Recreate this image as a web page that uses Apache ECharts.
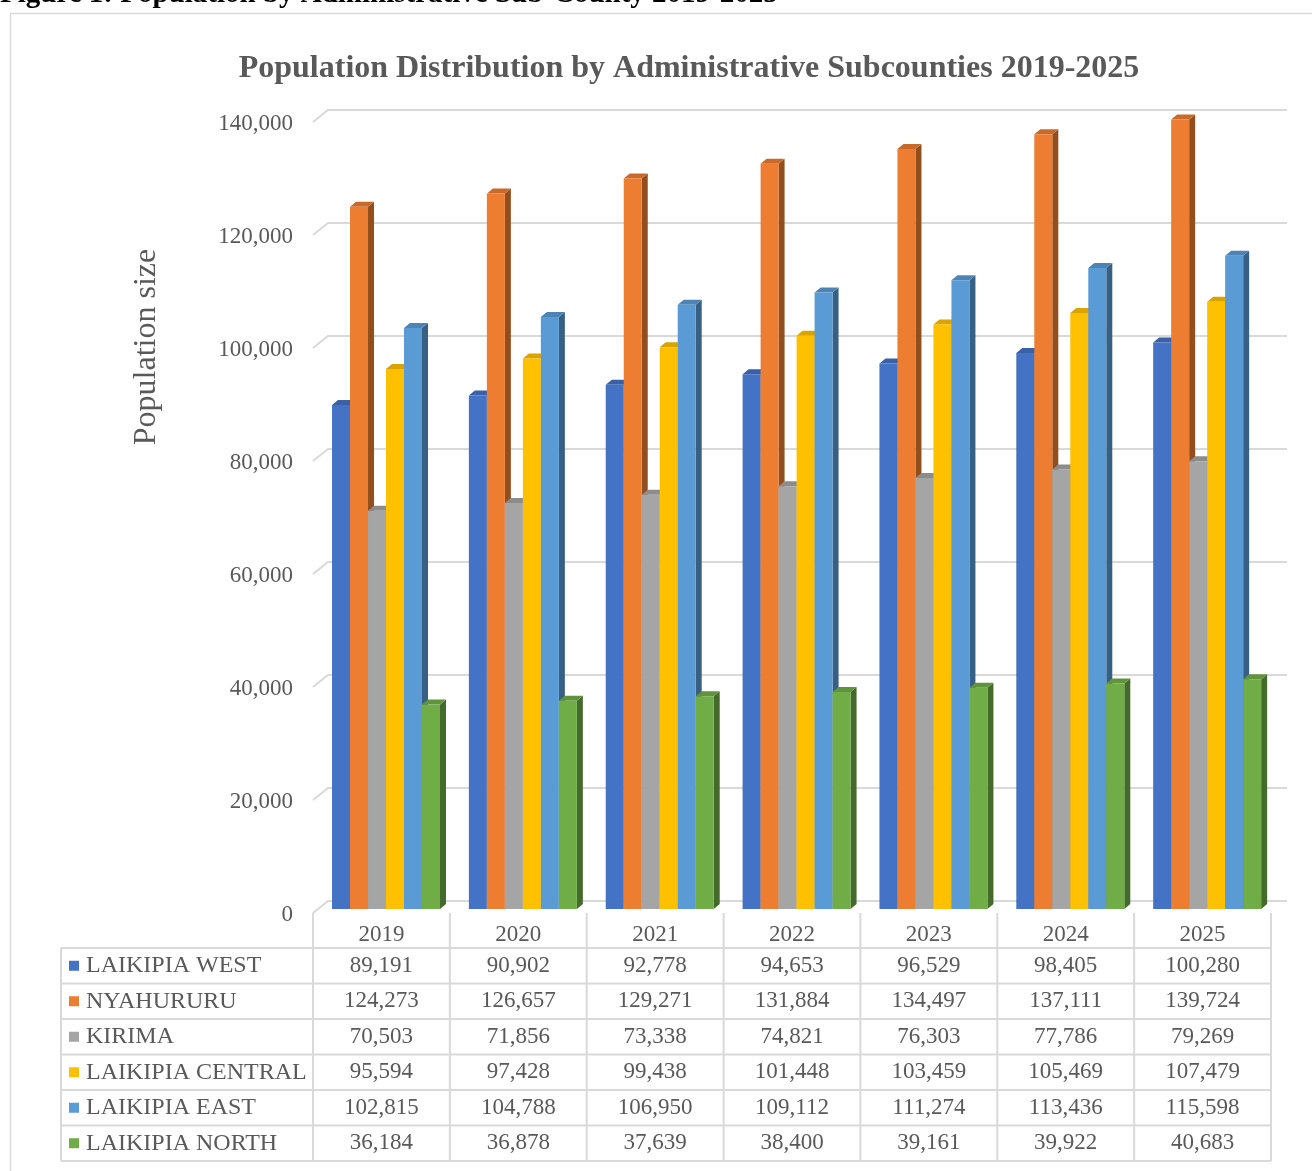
<!DOCTYPE html>
<html><head><meta charset="utf-8">
<script src="https://cdn.jsdelivr.net/npm/echarts@6/dist/echarts.min.js"></script>
<style>html,body{margin:0;padding:0;background:#fff}#c{width:1312px;height:1171px}</style>
</head><body><div id="c"></div>
<script>
var categories = ['2019','2020','2021','2022','2023','2024','2025'];
var seriesNames = ['LAIKIPIA WEST','NYAHURURU','KIRIMA','LAIKIPIA CENTRAL','LAIKIPIA EAST','LAIKIPIA NORTH'];
var laikipiaWest = [89191, 90902, 92778, 94653, 96529, 98405, 100280];
var nyahururu = [124273, 126657, 129271, 131884, 134497, 137111, 139724];
var kirima = [70503, 71856, 73338, 74821, 76303, 77786, 79269];
var laikipiaCentral = [95594, 97428, 99438, 101448, 103459, 105469, 107479];
var laikipiaEast = [102815, 104788, 106950, 109112, 111274, 113436, 115598];
var laikipiaNorth = [36184, 36878, 37639, 38400, 39161, 39922, 40683];
var yTicks = [0, 20000, 40000, 60000, 80000, 100000, 120000, 140000];

var seriesValues = [laikipiaWest, nyahururu, kirima, laikipiaCentral, laikipiaEast, laikipiaNorth];
var colors = ['#4472C4','#ED7D31','#A5A5A5','#FFC000','#5B9BD5','#70AD47'];
var FONT = '"Liberation Serif", "Times New Roman", serif';
var TXT = '#595959';
var LINE = '#d9d9d9';

function shade(hex, f){
  var n = parseInt(hex.slice(1),16);
  var r = Math.round(((n>>16)&255)*f), g = Math.round(((n>>8)&255)*f), b = Math.round((n&255)*f);
  return 'rgb('+r+','+g+','+b+')';
}
function fmt(v){ return v.toString().replace(/\B(?=(\d{3})+(?!\d))/g, ','); }

function barRenderer(s){
  return function(params, api){
    var i = api.value(0), v = api.value(1);
    var c = api.coord([i, v]), b = api.coord([i, 0]);
    var bw = api.size([1, 0])[0];
    var w = bw * 0.1315;
    var x = c[0] - bw * 0.361 + s * w;
    var yt = c[1], yb = b[1];
    var dx = 6, dy = -5;
    var col = colors[s];
    return {type:'group', children:[
      {type:'polygon', shape:{points:[[x+w,yt],[x+w+dx,yt+dy],[x+w+dx,yb+dy],[x+w,yb]]}, style:{fill:shade(col,0.62)}},
      {type:'polygon', shape:{points:[[x,yt],[x+w,yt],[x+w+dx,yt+dy],[x+dx,yt+dy]]}, style:{fill:shade(col,0.85)}},
      {type:'rect', shape:{x:x, y:yt, width:w, height:yb-yt}, style:{fill:col}}
    ]};
  };
}

function gridRenderer(params, api){
  var cs = params.coordSys;
  var y = api.coord([0, api.value(1)])[1];
  return {type:'polyline', shape:{points:[[cs.x, y+4],[cs.x+15, y-8],[cs.x+cs.width+16, y-8]]},
    style:{stroke:LINE, lineWidth:2, fill:null}};
}

function tableRenderer(params, api){
  var i = api.value(0);
  var cs = params.coordSys;
  var b = api.coord([i, 0]);
  var bw = api.size([1, 0])[0];
  var y0 = b[1];
  var top = y0 + 4, hb = y0 + 39, rowH = 35.5;
  var bottom = hb + rowH * 6;
  var leftX = 61;
  var ch = [];
  ch.push({type:'line', shape:{x1:b[0]+bw/2, y1:top, x2:b[0]+bw/2, y2:bottom}, style:{stroke:LINE, lineWidth:2}});
  if (i === 0) {
    ch.push({type:'line', shape:{x1:b[0]-bw/2, y1:top, x2:b[0]-bw/2, y2:bottom}, style:{stroke:LINE, lineWidth:2}});
    ch.push({type:'line', shape:{x1:leftX, y1:hb, x2:leftX, y2:bottom}, style:{stroke:LINE, lineWidth:2}});
    for (var r = 0; r <= 6; r++) {
      var yy = hb + rowH * r;
      ch.push({type:'line', shape:{x1:leftX, y1:yy, x2:cs.x+cs.width, y2:yy}, style:{stroke:LINE, lineWidth:2}});
    }
    for (var s = 0; s < 6; s++) {
      var cy = hb + rowH * (s + 0.5);
      ch.push({type:'rect', shape:{x:leftX+8, y:cy-5, width:10, height:10}, style:{fill:colors[s]}});
      ch.push({type:'text', style:{text:seriesNames[s], x:leftX+25, y:cy, fill:TXT, font:'24px '+FONT, textAlign:'left', textVerticalAlign:'middle'}});
    }
  }
  for (var s2 = 0; s2 < 6; s2++) {
    var cy2 = hb + rowH * (s2 + 0.5);
    ch.push({type:'text', style:{text:fmt(seriesValues[s2][i]), x:b[0], y:cy2, fill:TXT, font:'23px '+FONT, textAlign:'center', textVerticalAlign:'middle'}});
  }
  return {type:'group', children:ch};
}

var series = [{
  type:'custom', name:'grid', renderItem:gridRenderer, clip:false, z:1, silent:true,
  data: yTicks.map(function(v){ return [0, v]; })
}];
seriesValues.forEach(function(arr, s){
  series.push({type:'custom', name:seriesNames[s], renderItem:barRenderer(s), clip:false, z:2,
    data: arr.map(function(v, i){ return [i, v]; })});
});
series.push({type:'custom', name:'table', renderItem:tableRenderer, clip:false, z:3, silent:true,
  data: categories.map(function(c, i){ return [i, 0]; })});

var chart = echarts.init(document.getElementById('c'), null, {renderer:'canvas'});
chart.setOption({
  animation:false,
  backgroundColor:'#fff',
  title:{text:'Population Distribution by Administrative Subcounties 2019-2025', left:684, top:48, textAlign:'center',
    textStyle:{fontFamily:FONT, fontSize:32, fontWeight:'bold', color:TXT}},
  grid:{left:313, right:41, top:118, bottom:262, containLabel:false},
  xAxis:{type:'category', data:categories, axisLine:{show:false}, axisTick:{show:false}, splitLine:{show:false},
    axisLabel:{fontFamily:FONT, fontSize:23, color:TXT, margin:14}},
  yAxis:{type:'value', min:0, max:140000, interval:20000, axisLine:{show:false}, axisTick:{show:false}, splitLine:{show:false},
    axisLabel:{fontFamily:FONT, fontSize:23, color:TXT, margin:20,
      formatter:function(v){ return '{v|' + fmt(v) + '}'; },
      rich:{v:{fontFamily:FONT, fontSize:23, color:TXT, padding:[12,0,0,0]}}}},
  graphic:[
    {type:'rect', shape:{x:10.5, y:13.5, width:1500, height:1500}, style:{fill:null, stroke:LINE, lineWidth:1.5}, z:0},
    {type:'text', x:0, y:-5, style:{text:'Figure 1: Population by Administrative Sub-County 2019-2025', font:'bold 29px '+FONT, fill:'#000', textVerticalAlign:'middle'}},
    {type:'text', x:147, y:347, rotation:Math.PI/2, style:{text:'Population size', font:'32px '+FONT, fill:TXT, textAlign:'center', textVerticalAlign:'middle'}}
  ],
  series:series
});
</script></body></html>
